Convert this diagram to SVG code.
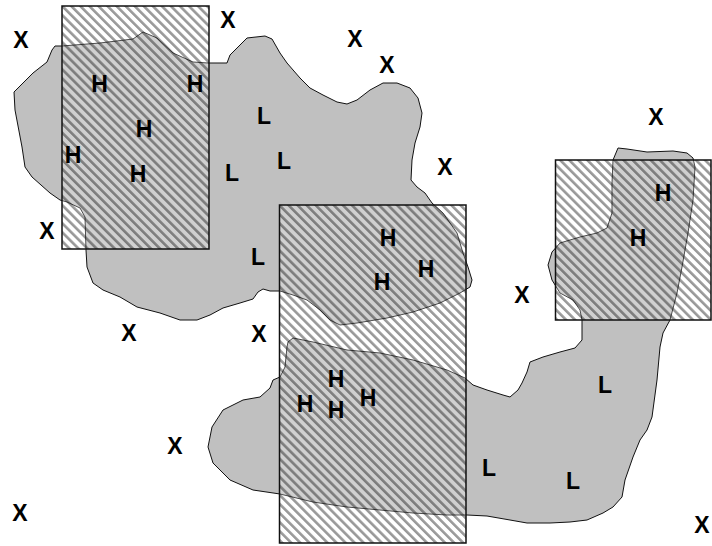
<svg xmlns="http://www.w3.org/2000/svg" width="712" height="546" viewBox="0 0 712 546">
  <defs>
    <!-- diagonal hatching for the sample windows -->
    <pattern id="hatch" patternUnits="userSpaceOnUse" width="6.4" height="6.4" patternTransform="rotate(-45)">
      <rect width="6.4" height="6.4" fill="#fff" fill-opacity="0.25"/>
      <rect width="2.6" height="6.4" fill="#000" fill-opacity="0.4"/>
    </pattern>
    <style>
      .region { fill: #c0c0c0; stroke: #111; stroke-width: 1; stroke-linejoin: round; }
      .window { fill: url(#hatch); stroke: #111; stroke-width: 1.5; }
      .lbl { font-family: "Liberation Sans", Arial, sans-serif; font-size: 23px; font-weight: bold; fill: #000; text-anchor: middle; }
    </style>
  </defs>
  <rect width="712" height="546" fill="#fff"/>

  <!-- gray regions -->
  <g id="region-west">
    <path class="region" d="M14,92 L33,73 L47,62 L52,50 L55,46 L62,46 L100,43 L133,39 L143,32 L157,38 L173,53 L193,62 L208,63 L227,63 L230,55 L240,45 L247,38 L265,36 L272,39 L280,53 L287,63 L300,78 L310,88 L323,95 L337,102 L347,104 L357,100 L370,90 L383,83 L397,83 L410,88 L418,98 L422,113 L420,127 L415,143 L412,160 L411,180 L417,187 L425,193 L432,203 L443,213 L457,233 L463,253 L468,267 L472,280 L470,287 L460,293 L440,303 L413,312 L387,318 L357,323 L340,325 L330,320 L320,310 L307,300 L293,295 L280,291 L270,291 L263,289 L258,292 L253,299 L240,303 L223,308 L210,315 L197,320 L180,320 L160,313 L137,307 L120,297 L103,290 L93,283 L87,267 L86,250 L85,217 L80,208 L67,202 L60,200 L50,193 L32,177 L25,167 L22,147 L15,110 Z"/>
  </g>
  <g id="region-east">
    <path class="region" d="M613,160 L618,148 L627,149 L647,152 L673,151 L687,153 L693,158 L695,167 L693,200 L688,233 L682,267 L677,293 L670,320 L663,333 L660,347 L657,380 L652,417 L647,430 L640,440 L633,457 L625,480 L622,497 L613,507 L603,513 L587,520 L570,522 L550,523 L527,523 L510,520 L487,516 L467,515 L447,515 L413,513 L380,510 L347,507 L313,502 L280,494 L253,490 L230,480 L213,463 L208,447 L212,427 L223,410 L243,400 L260,397 L270,388 L273,380 L280,377 L285,367 L287,347 L288,342 L293,338 L313,342 L347,350 L380,353 L413,360 L447,370 L465,378 L473,385 L487,390 L503,395 L510,397 L518,390 L522,383 L527,372 L530,362 L543,357 L560,352 L575,348 L582,340 L582,320 L580,310 L573,300 L560,293 L552,280 L548,265 L552,252 L560,243 L580,237 L597,233 L607,228 L612,213 L612,183 Z"/>
  </g>

  <!-- hatched windows -->
  <g id="window-a"><rect class="window" x="62" y="6" width="147" height="243"/></g>
  <g id="window-b"><rect class="window" x="279.5" y="205" width="186.5" height="338"/></g>
  <g id="window-c"><rect class="window" x="555.5" y="160" width="155.5" height="160"/></g>

  <!-- point labels -->
  <g id="labels-x">
    <text class="lbl" x="21" y="48">X</text>
    <text class="lbl" x="228" y="28">X</text>
    <text class="lbl" x="355" y="47">X</text>
    <text class="lbl" x="387" y="73">X</text>
    <text class="lbl" x="445" y="175">X</text>
    <text class="lbl" x="47" y="239">X</text>
    <text class="lbl" x="656" y="125">X</text>
    <text class="lbl" x="522" y="303">X</text>
    <text class="lbl" x="129" y="341">X</text>
    <text class="lbl" x="259" y="342">X</text>
    <text class="lbl" x="175" y="454">X</text>
    <text class="lbl" x="20" y="521">X</text>
    <text class="lbl" x="702" y="533">X</text>
  </g>
  <g id="labels-h">
    <text class="lbl" x="99.5" y="92">H</text>
    <text class="lbl" x="195" y="92">H</text>
    <text class="lbl" x="144" y="137">H</text>
    <text class="lbl" x="73" y="163">H</text>
    <text class="lbl" x="138" y="182">H</text>
    <text class="lbl" x="388" y="246">H</text>
    <text class="lbl" x="426" y="277">H</text>
    <text class="lbl" x="382" y="290">H</text>
    <text class="lbl" x="663" y="201">H</text>
    <text class="lbl" x="638" y="246">H</text>
    <text class="lbl" x="336" y="387">H</text>
    <text class="lbl" x="305" y="412">H</text>
    <text class="lbl" x="336" y="418">H</text>
    <text class="lbl" x="368" y="406">H</text>
  </g>
  <g id="labels-l">
    <text class="lbl" x="264" y="124">L</text>
    <text class="lbl" x="232" y="181">L</text>
    <text class="lbl" x="284" y="169">L</text>
    <text class="lbl" x="258" y="265">L</text>
    <text class="lbl" x="605" y="393">L</text>
    <text class="lbl" x="489" y="476">L</text>
    <text class="lbl" x="573" y="489">L</text>
  </g>
</svg>
